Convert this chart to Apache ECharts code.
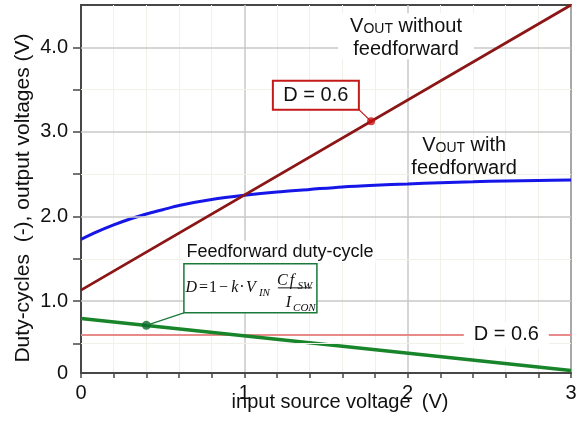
<!DOCTYPE html>
<html>
<head>
<meta charset="utf-8">
<script src="https://cdn.jsdelivr.net/npm/echarts@6/dist/echarts.min.js"></script>
<style>
  html, body { margin: 0; padding: 0; background: #ffffff; }
  #chart { width: 586px; height: 421px; }
</style>
</head>
<body>
<div id="chart"></div>
<script>
// Input source voltage samples (V)
const vin = [0, 0.1, 0.2, 0.3, 0.4, 0.5, 0.6, 0.8, 1.0, 1.2, 1.4, 1.6, 1.8, 2.0, 2.2, 2.4, 2.6, 2.8, 3.0];
// Output voltage with feedforward (V)
const voutWithFf = [1.73, 1.82, 1.90, 1.97, 2.03, 2.08, 2.13, 2.20, 2.25, 2.29, 2.32, 2.35, 2.37, 2.385, 2.40, 2.41, 2.42, 2.425, 2.43];
// Straight-line traces: end points over the input range
const vinEnds = [0, 3];
const voutWithoutFf = [1.13, 4.5];
const dutyFf = [0.795, 0.18];
const dutyFixed = [0.6, 0.6];
// Highlighted points [vin, value]
const pointWithoutFf = [1.776, 3.125];
const pointDutyFf = [0.4, 0.713];
// Axis ticks and labels
const xTickValues = [0, 1, 2, 3];
const yLabelValues = [0.15, 1, 2, 3, 4];
const yLabelTexts = ['0', '1.0', '2.0', '3.0', '4.0'];
const yTickValues = [0.5, 1, 1.5, 2, 2.5, 3, 3.5, 4];
const yMajorGrid = [1, 2, 3, 4];
const yMinorGrid = [0.5, 1.5, 2.5, 3.5];

const SANS = "'Liberation Sans', Arial, sans-serif";
const SERIF = "'Liberation Serif', 'Times New Roman', serif";
const AXIS_COLOR = '#474747';
const GRID_COLOR = '#c8c8c8';

const chart = echarts.init(document.getElementById('chart'), null, { renderer: 'canvas' });

const pairs = (xs, ys) => xs.map((x, i) => [x, ys[i]]);

chart.setOption({
  animation: false,
  backgroundColor: '#ffffff',
  textStyle: { fontFamily: SANS },
  grid: {
    left: 81, right: 15, top: 5, bottom: 48,
    show: true, borderColor: AXIS_COLOR, borderWidth: 2,
    outerBoundsMode: 'none'
  },
  xAxis: {
    type: 'value', min: 0, max: 3, interval: 1,
    name: 'input source voltage  (V)',
    nameLocation: 'middle', nameGap: 19, nameMoveOverlap: false,
    nameTextStyle: { fontSize: 20, color: '#111', fontFamily: SANS, padding: [0, 0, 0, 28] },
    axisLine: { show: true, lineStyle: { color: AXIS_COLOR, width: 2 } },
    axisTick: { show: true, inside: false, length: 5, lineStyle: { color: AXIS_COLOR, width: 1.5 } },
    minorTick: { show: true, splitNumber: 5, length: 5, lineStyle: { color: AXIS_COLOR, width: 1.5 } },
    minorSplitLine: { show: true, lineStyle: { color: '#f1f1ea', width: 1 } },
    splitLine: { show: true, lineStyle: { color: GRID_COLOR, width: 1.5 } },
    axisLabel: {
      fontSize: 20, color: '#111', margin: 10, fontFamily: SANS,
      customValues: xTickValues,
      formatter: v => String(v)
    }
  },
  yAxis: {
    type: 'value', min: 0.15, max: 4.5,
    name: 'Duty-cycles  (-), output voltages (V)',
    nameLocation: 'middle', nameGap: 47, nameMoveOverlap: false,
    nameTextStyle: { fontSize: 21, color: '#111', fontFamily: SANS, padding: [0, 18, 0, 0] },
    axisLine: { show: true, lineStyle: { color: AXIS_COLOR, width: 2 } },
    axisTick: { show: true, inside: false, length: 8, customValues: yTickValues, lineStyle: { color: AXIS_COLOR, width: 1.5 } },
    splitLine: { show: false },
    axisLabel: {
      fontSize: 20, color: '#111', margin: 13, fontFamily: SANS,
      customValues: yLabelValues,
      formatter: v => {
        const i = yLabelValues.findIndex(t => Math.abs(t - v) < 1e-6);
        return i >= 0 ? yLabelTexts[i] : '';
      }
    }
  },
  series: [
    {
      // horizontal grid lines
      type: 'line', data: [], z: 1, silent: true,
      markLine: {
        silent: true, symbol: 'none', label: { show: false }, animation: false,
        data: yMajorGrid.map(v => ({ yAxis: v, lineStyle: { color: GRID_COLOR, width: 1.5, type: 'solid' } }))
          .concat(yMinorGrid.map(v => ({ yAxis: v, lineStyle: { color: '#f1f1ea', width: 1, type: 'solid' } })))
      }
    },
    {
      name: 'D = 0.6', type: 'line', data: pairs(vinEnds, dutyFixed),
      symbol: 'none', z: 3, lineStyle: { color: '#e68a8a', width: 2 }
    },
    {
      name: 'Feedforward duty-cycle', type: 'line', data: pairs(vinEnds, dutyFf),
      symbol: 'none', z: 4, lineStyle: { color: '#18852a', width: 3.5 }
    },
    {
      name: 'VOUT with feedforward', type: 'line', data: pairs(vin, voutWithFf),
      symbol: 'none', smooth: 0.3, z: 4, lineStyle: { color: '#1616e8', width: 3 }
    },
    {
      name: 'VOUT without feedforward', type: 'line', data: pairs(vinEnds, voutWithoutFf),
      symbol: 'none', z: 5, lineStyle: { color: '#8c1616', width: 2.8 }
    },
    {
      type: 'scatter', z: 8, symbol: 'circle',
      data: [
        { value: pointWithoutFf, symbolSize: 8, itemStyle: { color: '#c41212' } },
        { value: pointDutyFf, symbolSize: 9, itemStyle: { color: '#0c6b2c' } }
      ]
    }
  ]
});

// Annotations: placed at data coordinates, sized in pixels
const px = (x, y) => chart.convertToPixel({ gridIndex: 0 }, [x, y]);

function buildAnnotations() {
  const g = [];
  const subRich = {
    v: { fontSize: 20, fontFamily: SANS, fill: '#111', lineHeight: 23, verticalAlign: 'bottom' },
    s: { fontSize: 14, fontFamily: SANS, fill: '#111', lineHeight: 23, verticalAlign: 'bottom' }
  };

  // V_OUT without feedforward
  const a1 = px(1.99, 4.13);
  g.push({
    type: 'text', x: a1[0], y: a1[1], z: 20,
    style: {
      text: '{v|V}{s|OUT}{v| without}\n{v|feedforward}',
      align: 'center', verticalAlign: 'middle',
      backgroundColor: '#ffffff', padding: [0, 12], rich: subRich
    }
  });

  // V_OUT with feedforward
  const a2 = px(2.346, 2.724);
  g.push({
    type: 'text', x: a2[0], y: a2[1], z: 20,
    style: {
      text: '{v|V}{s|OUT}{v| with}\n{v|feedforward}',
      align: 'center', verticalAlign: 'middle', rich: subRich
    }
  });

  // Feedforward duty-cycle caption
  const a3 = px(0.634, 1.584);
  g.push({
    type: 'text', x: a3[0], y: a3[1], z: 20,
    style: {
      text: 'Feedforward duty-cycle', fontSize: 18, fontFamily: SANS, fill: '#111',
      align: 'left', verticalAlign: 'middle', backgroundColor: '#ffffff', padding: [2, 2]
    }
  });

  // D = 0.6 label on the fixed duty-cycle line
  const a4 = px(2.604, dutyFixed[0]);
  g.push({
    type: 'text', x: a4[0], y: a4[1], z: 20,
    style: {
      text: 'D = 0.6', fontSize: 20, fontFamily: SANS, fill: '#111',
      align: 'center', verticalAlign: 'middle', backgroundColor: '#ffffff', padding: [3, 10]
    }
  });

  // Boxed D = 0.6 callout pointing at the V_OUT without feedforward point
  const c = px(1.438, 3.434);
  const bw = 86, bh = 29;
  const dot1 = px(pointWithoutFf[0], pointWithoutFf[1]);
  g.push({
    type: 'line', z: 19,
    shape: { x1: c[0] + bw / 2 - 1, y1: c[1] + bh / 2 - 1, x2: dot1[0], y2: dot1[1] },
    style: { stroke: '#c41212', lineWidth: 1.2 }
  });
  g.push({
    type: 'rect', z: 20,
    shape: { x: c[0] - bw / 2, y: c[1] - bh / 2, width: bw, height: bh },
    style: { fill: '#ffffff', stroke: '#c41a1a', lineWidth: 2 }
  });
  g.push({
    type: 'text', x: c[0], y: c[1], z: 21,
    style: { text: 'D = 0.6', fontSize: 20, fontFamily: SANS, fill: '#111', align: 'center', verticalAlign: 'middle' }
  });

  // Formula box for the feedforward duty-cycle
  const b = px(0.63, 1.44);
  const fw = 133, fh = 49;
  const dot2 = px(pointDutyFf[0], pointDutyFf[1]);
  g.push({
    type: 'line', z: 19,
    shape: { x1: b[0], y1: b[1] + fh, x2: dot2[0], y2: dot2[1] },
    style: { stroke: '#1a7a3a', lineWidth: 1.2 }
  });
  g.push({
    type: 'rect', z: 20,
    shape: { x: b[0], y: b[1], width: fw, height: fh },
    style: { fill: '#ffffff', stroke: '#1a7a3a', lineWidth: 1.5 }
  });
  const piece = (text, dx, dy, size, italic) => ({
    type: 'text', x: b[0] + dx, y: b[1] + dy, z: 21,
    style: {
      text, fontSize: size, fontFamily: SERIF, fontStyle: italic ? 'italic' : 'normal',
      fill: '#111', align: 'center', verticalAlign: 'middle'
    }
  });
  g.push(
    piece('D', 7.5, 24, 16, true),
    piece('=', 19.5, 24, 16, false),
    piece('1', 29, 24, 16, false),
    piece('\u2212', 39.5, 24, 16, false),
    piece('k', 51, 24, 16, true),
    piece('\u00b7', 58, 24, 16, false),
    piece('V', 67, 24, 16, true),
    piece('IN', 80.5, 29, 11, true),
    piece('C', 98.5, 17, 16, true),
    piece('f', 108, 17, 16, true),
    piece('SW', 121, 22, 11, true),
    piece('I', 104.5, 39, 16, true),
    piece('CON', 120.5, 44, 11, true)
  );
  g.push({
    type: 'line', z: 21,
    shape: { x1: b[0] + 94, y1: b[1] + 24, x2: b[0] + 128, y2: b[1] + 24 },
    style: { stroke: '#111', lineWidth: 1 }
  });
  return g;
}

chart.setOption({ graphic: buildAnnotations() });
</script>
</body>
</html>
